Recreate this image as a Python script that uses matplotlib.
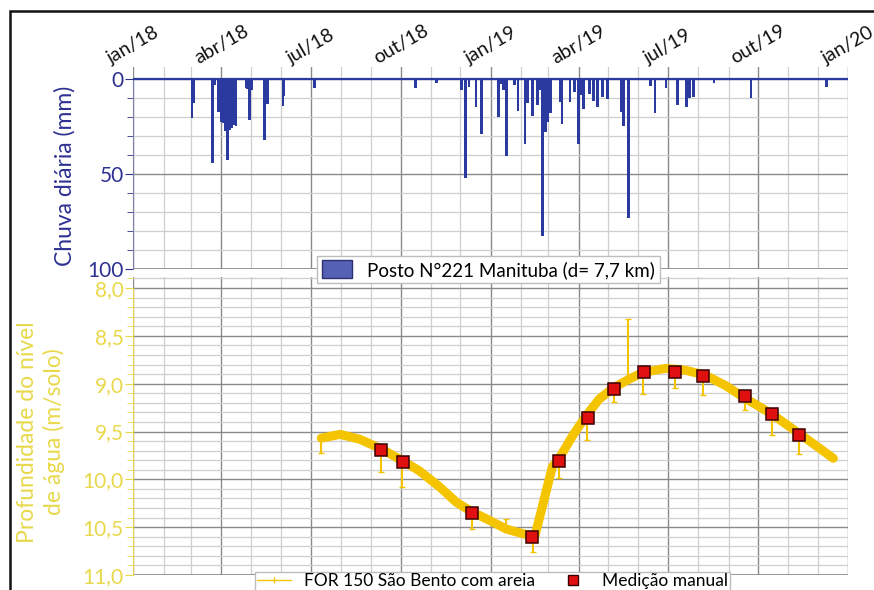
import numpy as np
import matplotlib
matplotlib.use('Agg')
import matplotlib.pyplot as plt
import matplotlib.dates as mdates
from matplotlib.lines import Line2D
from matplotlib.patches import Patch, Rectangle
from matplotlib.ticker import MultipleLocator, FixedLocator

plt.rcParams['font.family'] = ['Lato', 'DejaVu Sans']

# chuva diaria (mm), posto 221 Manituba
rain_dates = ['2018-03-02', '2018-03-04', '2018-03-23', '2018-03-25', '2018-03-29',
              '2018-04-01', '2018-04-03', '2018-04-05', '2018-04-07', '2018-04-09',
              '2018-04-11', '2018-04-13', '2018-04-16', '2018-04-26', '2018-04-28',
              '2018-04-30', '2018-05-02', '2018-05-15', '2018-05-18', '2018-06-03',
              '2018-06-04', '2018-07-05', '2018-10-16', '2018-11-07', '2018-12-02',
              '2018-12-06', '2018-12-10', '2018-12-17', '2018-12-23',
              '2019-01-09', '2019-01-12', '2019-01-14', '2019-01-17', '2019-01-25',
              '2019-01-29', '2019-02-05', '2019-02-08', '2019-02-13', '2019-02-18',
              '2019-02-21', '2019-02-23', '2019-02-26', '2019-02-28', '2019-03-03',
              '2019-03-13', '2019-03-15', '2019-03-23', '2019-03-28', '2019-04-01',
              '2019-04-03', '2019-04-06', '2019-04-12', '2019-04-16', '2019-04-20',
              '2019-04-25', '2019-04-30', '2019-05-15', '2019-05-17', '2019-05-22',
              '2019-06-13', '2019-06-18', '2019-06-29', '2019-07-11', '2019-07-20',
              '2019-07-23', '2019-07-27', '2019-08-17', '2019-09-24', '2019-12-10']
rain_mm = [20.7, 12.8, 44.4, 3.2, 17.2,
           22.5, 23.0, 27.5, 42.5, 27.0,
           26.0, 24.0, 25.0, 5.0, 5.5,
           21.6, 6.0, 32.0, 13.0, 14.0,
           9.0, 5.0, 5.0, 2.0, 6.0,
           52.3, 4.0, 15.0, 29.0,
           20.0, 2.5, 6.0, 40.5, 3.0,
           17.0, 34.0, 12.8, 19.5, 13.7,
           6.0, 82.5, 27.7, 22.5, 18.0,
           12.0, 23.7, 12.0, 6.7, 34.0,
           8.4, 16.0, 8.0, 11.4, 14.6,
           9.7, 10.7, 17.2, 25.0, 73.0,
           3.7, 18.0, 4.9, 13.7, 14.9,
           10.0, 9.7, 2.0, 10.0, 4.0]

# nivel continuo FOR 150 (m/solo)
level_dates = ['2018-07-12', '2018-07-31', '2018-08-20', '2018-09-11', '2018-10-02',
               '2018-10-20', '2018-11-10', '2018-11-27', '2018-12-13', '2018-12-31',
               '2019-01-17', '2019-01-31', '2019-02-15', '2019-03-05',
               '2019-03-12', '2019-03-26', '2019-04-09', '2019-04-22', '2019-05-07',
               '2019-05-21', '2019-06-06', '2019-06-29', '2019-07-19', '2019-08-08',
               '2019-08-29', '2019-09-16', '2019-10-14', '2019-11-12', '2019-12-17']
level_m = [9.57, 9.53, 9.58, 9.68, 9.80,
           9.91, 10.08, 10.24, 10.34, 10.43,
           10.52, 10.56, 10.60, 9.87,
           9.78, 9.54, 9.33, 9.16, 9.04,
           8.96, 8.88, 8.84, 8.86, 8.91,
           9.02, 9.14, 9.31, 9.52, 9.78]

# picos isolados do sensor
spike_dates = ['2018-07-12', '2018-09-11', '2018-10-02', '2018-12-13', '2019-01-17',
               '2019-02-13', '2019-03-12', '2019-04-09', '2019-05-07', '2019-05-21',
               '2019-06-06', '2019-07-08', '2019-08-06', '2019-09-18', '2019-10-15',
               '2019-11-12']
spike_m = [9.72, 9.92, 10.08, 10.52, 10.41,
           10.76, 9.99, 9.59, 9.19, 8.32,
           9.11, 9.05, 9.12, 9.28, 9.54,
           9.73]

# medicao manual
manual_dates = ['2018-09-11', '2018-10-03', '2018-12-13', '2019-02-12', '2019-03-12',
                '2019-04-10', '2019-05-07', '2019-06-07', '2019-07-08', '2019-08-06',
                '2019-09-18', '2019-10-15', '2019-11-12']
manual_m = [9.69, 9.82, 10.35, 10.60, 9.81,
            9.36, 9.06, 8.88, 8.88, 8.92,
            9.13, 9.32, 9.54]

tick_dates = ['2018-01-01', '2018-04-01', '2018-07-01', '2018-10-01', '2019-01-01',
              '2019-04-01', '2019-07-01', '2019-10-01', '2020-01-01']
tick_labels = ['jan/18', 'abr/18', 'jul/18', 'out/18', 'jan/19',
               'abr/19', 'jul/19', 'out/19', 'jan/20']

blue = '#2b3a9e'
blue_txt = '#2e3192'
yellow = '#f5c400'
yellow_txt = '#e8d84a'
major_c = '#8a8a8a'
minor_c = '#cfcfcf'

rd = mdates.datestr2num(rain_dates)
ld = mdates.datestr2num(level_dates)
sd = mdates.datestr2num(spike_dates)
md = mdates.datestr2num(manual_dates)
td = mdates.datestr2num(tick_dates)
month_ticks = mdates.datestr2num(['%d-%02d-01' % (y, m) for y in (2018, 2019) for m in range(1, 13)])
xlim = (td[0], td[-1])

fig = plt.figure(figsize=(8.74, 5.9), dpi=100)
L, W = 133.3 / 874, (848 - 133.3) / 874
ax1 = fig.add_axes([L, 1 - 269 / 590, W, (269 - 67) / 590])
ax2 = fig.add_axes([L, 1 - 575 / 590, W, (575 - 277) / 590])


def grid_setup(ax):
    ax.set_xlim(*xlim)
    ax.xaxis.set_major_locator(FixedLocator(td))
    ax.xaxis.set_minor_locator(FixedLocator(month_ticks))
    ax.grid(which='major', color=major_c, lw=1.0)
    ax.grid(which='minor', color=minor_c, lw=0.9)
    ax.set_axisbelow(True)
    for s in ['top', 'right', 'bottom']:
        ax.spines[s].set_visible(False)
    ax.tick_params(axis='x', which='both', length=0)


# --- chuva
grid_setup(ax1)
ax1.bar(rd, rain_mm, width=2.8, color=blue, zorder=3)
ax1.set_ylim(100, -6.3)
ax1.axhline(0, color=blue, lw=1.6, zorder=4)
ax1.yaxis.set_major_locator(FixedLocator([0, 50, 100]))
ax1.yaxis.set_minor_locator(FixedLocator([10, 20, 30, 40, 60, 70, 80, 90]))
ax1.spines['left'].set_bounds(0, 100)
ax1.spines['left'].set_color('#7a7fb0')
ax1.tick_params(axis='y', which='major', colors=blue_txt, labelsize=15, length=6, pad=1)
ax1.tick_params(axis='y', which='minor', colors=blue_txt, length=4)
ax1.xaxis.tick_top()
ax1.set_xticklabels(tick_labels, rotation=30, ha='center', va='bottom', fontsize=14, color='#111111')
ax1.tick_params(axis='x', which='major', pad=0)
ax1.axhline(100, color=major_c, lw=1.2, zorder=2)

# --- nivel
grid_setup(ax2)
ax2.plot(ld, level_m, color=yellow, lw=6.5, solid_capstyle='round', solid_joinstyle='round', zorder=3)
ax2.vlines(sd, np.interp(sd, ld, level_m), spike_m, color=yellow, lw=1.5, zorder=3)
ax2.plot(sd, spike_m, ls='none', marker='_', ms=4, color=yellow, zorder=3)
ax2.plot(md, manual_m, ls='none', marker='s', ms=8, mfc='#e01010', mec='#3a0000', mew=1.1, zorder=5)
ax2.set_ylim(11.0, 7.885)
ax2.yaxis.set_major_locator(MultipleLocator(0.5))
ax2.yaxis.set_minor_locator(MultipleLocator(0.1))
ax2.yaxis.set_major_formatter(lambda v, p: ('%.1f' % v).replace('.', ','))
ax2.spines['left'].set_bounds(8.0, 11.0)
ax2.spines['left'].set_color(yellow_txt)
ax2.tick_params(axis='y', which='major', colors=yellow_txt, labelsize=15, length=6, pad=1)
ax2.tick_params(axis='y', which='minor', colors=yellow_txt, length=4)
ax2.set_xticklabels([])
ax2.axhline(11.0, color=major_c, lw=1.2, zorder=2)

# rotulos dos eixos
fig.text(65 / 874, 1 - 176 / 590, 'Chuva diária (mm)', rotation=90, ha='center', va='center',
         fontsize=16.5, color=blue_txt)
fig.text(41 / 874, 1 - 432 / 590, 'Profundidade do nível\nde água (m/solo)', rotation=90,
         ha='center', va='center', fontsize=16.5, color=yellow_txt, linespacing=1.3)

# legendas
leg1 = fig.legend([Patch(facecolor='#5561b5', edgecolor='#2b3070')],
                  ['Posto N°221 Manituba (d= 7,7 km)'], loc='center',
                  bbox_to_anchor=(488.5 / 874, 1 - 269.5 / 590), fontsize=13.5, fancybox=False,
                  framealpha=1, edgecolor='#bdbdbd', handlelength=1.6, handleheight=1.1,
                  borderpad=0.25, handletextpad=0.8)
leg2 = fig.legend([Line2D([], [], color=yellow, lw=1, marker='|', ms=4),
                   Line2D([], [], ls='none', marker='s', ms=7, mfc='#e01010', mec='#3a0000')],
                  ['FOR 150 São Bento com areia', 'Medição manual'], loc='upper center',
                  bbox_to_anchor=(492.5 / 874, 1 - 563 / 590), ncol=2, fontsize=12.5,
                  fancybox=False, framealpha=1, edgecolor='#bdbdbd', borderpad=0.1,
                  handlelength=2.0, handletextpad=0.7, columnspacing=1.2)

# moldura
fig.add_artist(Rectangle((10 / 874, -0.1), 1.2, 1.1 - 11 / 590, transform=fig.transFigure,
                         fill=False, edgecolor='#111111', lw=1.8))

fig.savefig('out.png', dpi=100)
